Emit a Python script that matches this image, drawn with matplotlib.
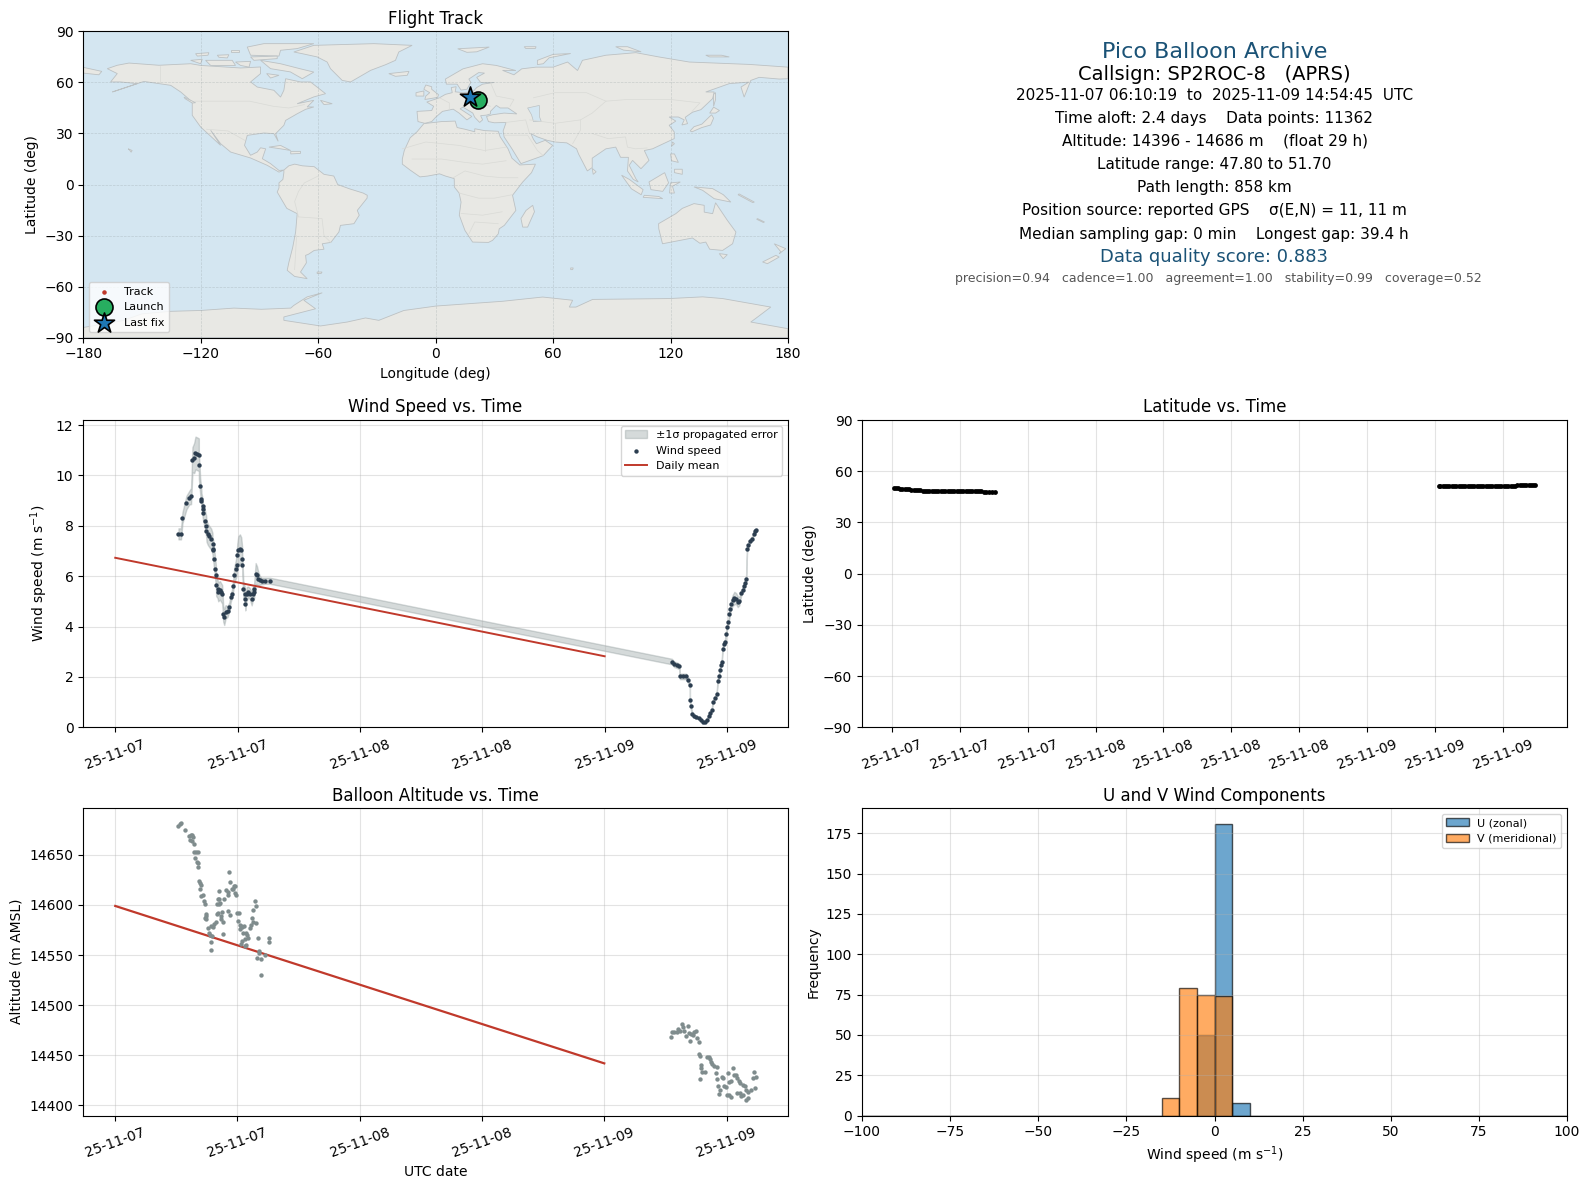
import datetime as dt

import matplotlib
matplotlib.use("Agg")
import matplotlib.dates as mdates
import matplotlib.pyplot as plt
import numpy as np
from matplotlib.patches import Polygon

# hours after 2025-11-07 00:00 UTC
wind_t = [6.2, 6.45, 6.59, 6.98, 7.25, 7.44, 7.57, 7.74, 7.87, 8.03, 8.20, 8.20, 8.33, 8.46, 8.46, 8.56, 8.56, 8.62,
          8.82, 8.92, 8.95, 9.08, 9.21, 9.41, 9.54, 9.54, 9.61, 9.70, 9.80, 9.87, 9.90, 10.03, 10.10, 10.26, 10.36,
          10.49, 10.59, 10.69, 10.82, 11.02, 11.18, 11.34, 11.44, 11.57, 11.67, 11.84, 11.90, 11.97, 12.07, 12.23,
          12.36, 12.46, 12.46, 12.56, 12.69, 12.75, 12.75, 12.89, 13.05, 13.21, 13.38, 13.48, 13.61, 13.64, 13.77,
          13.90, 14.03, 14.20, 14.36, 14.72, 15.15,
          54.59, 54.82, 55.05, 55.31, 55.38, 55.64, 55.97, 56.13, 56.36, 56.36, 56.43, 56.59, 56.72, 56.95, 57.21,
          57.44, 57.61, 57.80, 58.00, 58.20, 58.33, 58.49, 58.62, 58.82, 58.98, 59.08, 59.21, 59.28, 59.38, 59.48,
          59.56, 59.67, 59.80, 59.90, 60.00, 60.13, 60.23, 60.33, 60.43, 60.56, 60.72, 60.89, 61.05, 61.21, 61.38,
          61.54, 61.64, 61.74, 61.87, 61.97, 62.10, 62.26, 62.46, 62.62, 62.77, 62.84]
wind_v = [7.68, 7.68, 8.32, 8.92, 9.11, 9.18, 10.62, 10.69, 10.89, 10.86, 10.82, 10.42, 9.59, 9.07, 8.98, 8.77, 8.68,
          8.52, 8.21, 7.99, 7.79, 7.66, 7.58, 7.47, 7.29, 7.09, 7.02, 6.69, 6.30, 6.03, 5.63, 5.50, 5.37, 5.44, 5.37,
          5.28, 4.51, 4.38, 4.58, 4.60, 4.78, 5.17, 5.28, 5.62, 6.03, 6.30, 6.43, 6.83, 7.02, 7.09, 7.02, 6.69, 6.43,
          5.50, 5.30, 5.11, 4.91, 5.30, 5.37, 5.30, 5.11, 5.30, 5.37, 5.50, 6.10, 6.03, 5.90, 5.83, 5.81, 5.82, 5.82,
          2.61, 2.50, 2.47, 2.42, 2.02, 2.02, 2.02, 1.89, 1.69, 1.10, 0.83, 0.52, 0.44, 0.41, 0.38, 0.30, 0.21, 0.21,
          0.30, 0.44, 0.57, 0.70, 1.01, 1.18, 1.31, 1.84, 2.02, 2.26, 2.46, 2.59, 3.10, 3.32, 3.39, 3.72, 3.98, 4.18,
          4.48, 4.71, 4.91, 5.04, 5.13, 5.11, 4.99, 5.01, 5.33, 5.44, 5.60, 5.73, 5.90, 7.09, 7.25, 7.39, 7.49, 7.69,
          7.79, 7.82]
wind_err = [0.22, 0.22, 0.22, 0.27, 0.27, 0.32, 0.5, 0.6, 0.65, 0.65, 0.65, 0.55, 0.32, 0.32, 0.32, 0.32, 0.32, 0.32,
            0.37, 0.42, 0.42, 0.42, 0.42, 0.42, 0.42, 0.42, 0.42, 0.42, 0.42, 0.42, 0.42, 0.37, 0.37, 0.37, 0.37, 0.37,
            0.32, 0.32, 0.27, 0.22, 0.17, 0.17, 0.17, 0.22, 0.32, 0.37, 0.42, 0.47, 0.57, 0.57, 0.52, 0.42, 0.37, 0.32,
            0.32, 0.27, 0.27, 0.27, 0.22, 0.22, 0.27, 0.27, 0.27, 0.32, 0.42, 0.37, 0.27, 0.17, 0.13, 0.12, 0.12,
            0.11, 0.11, 0.11, 0.11, 0.11, 0.11, 0.11, 0.09, 0.07, 0.07, 0.07, 0.05, 0.05, 0.05, 0.05, 0.05, 0.05, 0.05,
            0.05, 0.05, 0.05, 0.05, 0.07, 0.07, 0.07, 0.09, 0.09, 0.09, 0.09, 0.09, 0.09, 0.09, 0.09, 0.09, 0.12, 0.12,
            0.15, 0.17, 0.19, 0.22, 0.25, 0.22, 0.22, 0.17, 0.12, 0.09, 0.09, 0.09, 0.09, 0.09, 0.09, 0.09, 0.09, 0.07,
            0.07, 0.07]

mean_t = [0, 48]
wind_mean = [6.73, 2.82]
alt_mean = [14599, 14442]

alt_t = [6.20, 6.36, 6.49, 6.89, 7.25, 7.41, 7.57, 7.67, 7.34, 7.51, 7.77, 7.74, 7.93, 8.10, 7.87, 8.00, 8.10, 8.16,
         8.26, 8.36, 8.46, 8.36, 8.46, 8.59, 8.75, 8.79, 8.89, 8.95, 8.85, 8.95, 10.23, 10.20, 10.10, 9.97, 10.16,
         10.33, 10.72, 10.85, 11.02, 11.11, 11.21, 11.31, 11.44, 11.61, 11.74, 11.57, 11.77, 11.84, 11.05, 11.31,
         9.97, 10.10, 10.36, 10.49, 10.39, 10.59, 9.87, 9.70, 9.61, 9.41, 9.08, 9.18, 9.28, 9.54, 9.44, 9.44, 10.62,
         11.93, 12.10, 12.07, 12.20, 12.33, 12.43, 12.66, 12.26, 12.52, 12.82, 12.92, 13.08, 12.72, 12.49, 12.30,
         12.82, 12.72, 14.00, 13.87, 14.26, 14.26, 14.66, 15.05, 15.05, 14.07, 13.67, 13.77, 13.57, 13.41, 13.48,
         13.80, 13.31, 13.18, 14.10,
         54.59, 54.66, 54.85, 55.18, 55.28, 55.41, 55.67, 55.77, 55.87, 56.00, 56.26, 56.33, 56.39, 56.56, 56.75,
         56.85, 57.05, 57.15, 57.25, 57.28, 57.38, 57.51, 57.54, 57.44, 57.64, 57.90, 58.13, 58.30, 58.36, 58.52,
         58.62, 58.79, 59.02, 58.92, 59.11, 59.21, 59.38, 59.31, 59.54, 59.70, 59.80, 59.93, 60.00, 60.20, 60.10,
         60.26, 60.43, 60.59, 60.75, 60.92, 60.98, 61.18, 61.34, 61.57, 61.77, 61.90, 62.07, 61.31, 61.41, 62.07,
         62.56, 62.66, 62.89, 61.95, 60.40, 61.00, 61.60, 62.40, 62.80]
alt_m = [14679, 14681, 14682, 14675, 14669, 14670, 14670, 14668, 14665, 14664, 14661, 14653, 14653, 14653, 14647,
         14643, 14642, 14638, 14624, 14622, 14620, 14616, 14609, 14610, 14604, 14601, 14591, 14589, 14587, 14586,
         14614, 14606, 14606, 14601, 14601, 14602, 14606, 14615, 14613, 14610, 14633, 14623, 14616, 14619, 14619,
         14616, 14612, 14610, 14594, 14590, 14591, 14592, 14589, 14593, 14586, 14583, 14583, 14581, 14578, 14579,
         14577, 14572, 14570, 14569, 14563, 14555, 14571, 14592, 14592, 14584, 14580, 14579, 14578, 14579, 14576,
         14572, 14572, 14570, 14567, 14566, 14564, 14561, 14560, 14559, 14567, 14547, 14546, 14530, 14550, 14567,
         14563, 14554, 14604, 14599, 14595, 14587, 14583, 14582, 14580, 14577, 14552,
         14468, 14473, 14473, 14473, 14476, 14474, 14481, 14478, 14474, 14469, 14479, 14472, 14464, 14471, 14470,
         14473, 14474, 14467, 14463, 14451, 14449, 14440, 14437, 14426, 14433, 14433, 14448, 14448, 14446, 14443,
         14441, 14439, 14438, 14432, 14426, 14419, 14415, 14411, 14428, 14427, 14419, 14418, 14410, 14410, 14432,
         14423, 14424, 14437, 14430, 14430, 14427, 14424, 14422, 14420, 14419, 14415, 14413, 14412, 14409, 14407,
         14427, 14433, 14428, 14405, 14408, 14412, 14410, 14415, 14417]

lat_t = [6.17, 6.3, 6.5, 6.7, 6.9, 7.1, 7.3, 7.5, 7.7, 7.9, 8.1, 8.3, 8.5, 8.7, 8.9, 9.1, 9.3, 9.5, 9.7, 9.9, 10.1,
         10.3, 10.5, 10.7, 10.9, 11.1, 11.3, 11.5, 11.7, 11.9, 12.1, 12.3, 12.5, 12.7, 12.9, 13.1, 13.3, 13.5, 13.7,
         13.9, 14.1, 14.3, 14.6, 14.85, 15.1,
         54.34, 54.5, 54.7, 54.9, 55.1, 55.3, 55.5, 55.7, 55.9, 56.1, 56.3, 56.5, 56.7, 56.9, 57.1, 57.3, 57.5, 57.7,
         57.9, 58.1, 58.3, 58.5, 58.7, 58.9, 59.1, 59.3, 59.5, 59.7, 59.9, 60.1, 60.3, 60.5, 60.7, 60.9, 61.1, 61.3,
         61.5, 61.7, 61.9, 62.1, 62.3, 62.5, 62.7, 62.86]
lat_deg = [50.2, 50.1, 50.0, 49.7, 49.4, 49.35, 49.3, 49.3, 49.25, 49.25, 49.2, 49.1, 48.9, 48.7, 48.7, 48.65, 48.65,
           48.65, 48.6, 48.6, 48.6, 48.6, 48.55, 48.5, 48.5, 48.3, 48.3, 48.3, 48.25, 48.25, 48.25, 48.2, 48.2, 48.2,
           48.2, 48.2, 48.15, 48.15, 48.15, 48.15, 48.1, 48.1, 47.85, 47.8, 47.8,
           51.2, 51.2, 51.2, 51.2, 51.2, 51.2, 51.2, 51.2, 51.2, 51.2, 51.2, 51.2, 51.2, 51.2, 51.2, 51.2, 51.2, 51.2,
           51.2, 51.2, 51.2, 51.2, 51.2, 51.2, 51.2, 51.2, 51.25, 51.25, 51.25, 51.3, 51.3, 51.3, 51.35, 51.4, 51.6,
           51.65, 51.65, 51.65, 51.7, 51.7, 51.7, 51.7, 51.7, 51.7]

track_lon = [21.5, 21.0, 20.6, 20.1, 19.6, 19.2, 18.8, 18.2, 17.8, 17.4]
track_lat = [50.2, 49.4, 48.7, 48.2, 47.8, 51.2, 51.2, 51.2, 51.6, 51.7]
launch_lon, launch_lat = 21.5, 49.7
last_lon, last_lat = 17.4, 51.7

hist_edges = np.arange(-100, 105, 5)
u_centres = [-2.5, 2.5, 7.5]
u_counts = [50, 181, 8]
v_centres = [-12.5, -7.5, -2.5, 2.5]
v_counts = [11, 79, 75, 74]

# rough hand traced outlines, lon/lat
land_outlines = [
    # north america
    [(-167.7, 68.1), (-162.6, 70.1), (-156.6, 71.4), (-141.3, 70.1), (-125.1, 71), (-120, 70), (-99.6, 68.5),
     (-89.4, 69.1), (-89.4, 65.2), (-94.5, 60.3), (-91.1, 57.3), (-82.6, 55.4), (-79.2, 51.4), (-77.5, 55.4),
     (-76.6, 62.2), (-69, 60.3), (-63.9, 60.3), (-56.2, 53.4), (-62.2, 51.5), (-70.7, 47.5), (-62.2, 49.5),
     (-65.6, 45.6), (-62.2, 45.6), (-66.4, 44.2), (-70.7, 41.6), (-76.6, 37.7), (-77.5, 34.8), (-81.7, 29.9),
     (-80.4, 25.4), (-82.6, 29.9), (-87.7, 30.3), (-96.2, 28.9), (-97.6, 23), (-94.5, 17.2), (-91.1, 19.1),
     (-89.4, 21.6), (-86.8, 21), (-88.5, 15.2), (-84.3, 12.3), (-80, 8.3), (-77.5, 8.5), (-80, 7.3), (-86, 11.3),
     (-94.5, 15.6), (-104.7, 19.1), (-109.8, 24), (-114.9, 31.9), (-109.8, 23), (-120, 33.8), (-124.3, 40.7),
     (-124.3, 48.5), (-130.2, 54.4), (-135.3, 58.3), (-149, 60.6), (-157.5, 57.3), (-165.1, 54.4), (-152.4, 59.3),
     (-160.9, 60.3), (-166, 60.3), (-162.6, 65.2)],
    [(-89.4, 73), (-79.2, 71), (-69, 68), (-62.2, 66.1), (-68.1, 62.2), (-74.2, 66.2), (-84.3, 68.1)],
    [(-117.5, 73), (-103.9, 73), (-102.2, 70), (-114.9, 70)],
    [(-125.1, 73), (-119.2, 73.6), (-120, 71)],
    [(-122.6, 76.9), (-115.8, 77.5), (-116.3, 76), (-121.7, 75.5)],
    [(-111.5, 76), (-105.6, 76.3), (-106.4, 74.4), (-110.7, 74.8)],
    [(-96.2, 80.8), (-87.7, 82.8), (-62.2, 82.8), (-70.7, 79.9), (-79.2, 78.9), (-80, 75.5), (-94.5, 76)],
    [(-94.5, 75), (-80.9, 75.5), (-80.9, 74), (-92.8, 73)],
    [(-104.7, 78.9), (-100.5, 78.9), (-100.5, 77.9), (-104.7, 77.9)],
    [(-102.2, 72), (-94.5, 72.4), (-95.3, 69), (-99.6, 70)],
    [(-86.3, 65.2), (-80, 64.2), (-84.3, 62.6)],
    [(-58.8, 49.5), (-52.8, 47.5), (-57, 47)],
    [(-85.1, 22), (-79.2, 23), (-74, 20), (-79.2, 21)],
    [(-74, 19.5), (-69, 19.5), (-69, 18.3), (-74, 18)],
    [(-128.5, 51.4), (-122.6, 48.1), (-124.3, 47.9), (-128, 50.5)],
    [(-157, 21), (-155, 20), (-155.5, 19), (-156.5, 20.5)],
    [(-180, 68.9), (-170.5, 66.5), (-172, 64.5), (-180, 65.5)],
    # greenland, iceland, british isles
    [(-72.4, 77.9), (-62.2, 81.8), (-31.5, 82.8), (-12, 81.8), (-18.8, 77.9), (-20.5, 73), (-25.6, 70.4), (-33.2, 67.1),
     (-43.4, 60.3), (-47.7, 61.2), (-53.7, 68.1), (-55.4, 72), (-60.5, 75), (-68.1, 76.9)],
    [(-23.9, 65.2), (-13.6, 66.5), (-14.5, 64.2), (-20.5, 63.6)],
    [(-5.5, 50), (1, 51.2), (1.5, 52.8), (-2, 56), (-2, 57.5), (-5, 58.5), (-6, 56), (-3, 54), (-5, 52)],
    [(-10, 52), (-6, 52), (-6, 55), (-10, 54)],
    # arctic russia
    [(11.3, 79.8), (27.4, 80.8), (21, 78), (16, 77.7)],
    [(52, 70.5), (52, 73), (60, 76.5), (69, 77), (58, 74.5), (55, 71)],
    [(45.3, 81), (51.3, 81), (51, 80), (46, 80)],
    [(92, 81), (98, 81), (105, 78), (96, 79)],
    [(138, 76), (146, 76), (150, 75), (140, 75)],
    # south america
    [(-77.5, 8.5), (-75, 11), (-72, 12), (-68, 11), (-62, 10.5), (-57, 6), (-52, 5), (-50, 0), (-44, -2.5), (-37, -5),
     (-34.9, -6.3), (-35, -8), (-40, -15.2), (-39, -18), (-41.7, -23), (-48.6, -24), (-49.4, -27.9), (-53.5, -34),
     (-57.9, -34.8), (-57, -38), (-62, -38.7), (-65, -41), (-66.4, -41.6), (-66, -46), (-69, -51.4), (-65.6, -55.3),
     (-72, -54), (-75.8, -50.4), (-74.9, -45.5), (-73, -37), (-71.5, -27.9), (-70.7, -17.1), (-76, -14), (-80.9, -4.4),
     (-80, -2), (-80, 1), (-78, 3), (-77.5, 7)],
    [(-60.5, -51.4), (-58, -51.4), (-58.5, -52.3), (-60.5, -52.3)],
    # africa
    [(-6, 35.8), (3, 37), (10, 37.3), (11, 33.5), (15, 32.5), (20, 31), (20, 32.8), (25, 31.7), (32, 31.3), (33, 28),
     (37, 21), (39, 15.5), (43, 11.5), (51, 12), (49, 7), (44.5, 1.5), (39.3, -6.3), (41, -15.2), (35.1, -24),
     (32.5, -26), (32, -29), (29.1, -32.8), (27, -34), (18.9, -33.8), (15, -27), (12.1, -18), (13, -10.3), (12, -5),
     (9.6, -1.5), (9.5, 3.5), (5, 5), (2, 6.3), (-4, 5), (-8, 4.5), (-13, 8.5), (-17, 12), (-17, 15), (-16, 20),
     (-13, 27.5), (-9.5, 31)],
    [(49.6, -12.2), (50.5, -16), (47, -25), (44.5, -25), (43.6, -20), (46.2, -15.2)],
    [(69, -49), (70.3, -49), (70, -50), (69, -50)],
    # eurasia
    [(-9, 37), (-9.5, 43), (-2, 43.5), (-1, 46), (-4.5, 48.5), (2, 51), (5, 53), (8.5, 54), (8, 57), (10.5, 57.5),
     (10, 54.5), (14, 54), (19, 54.5), (21, 57), (24, 59), (30, 60), (23, 60), (21, 63), (25, 65.5), (22, 65.8),
     (17, 62), (18, 60), (16, 56), (13, 55.5), (11, 59), (5.5, 59), (5, 62), (14, 68), (24, 71), (31, 70), (41, 67),
     (34.2, 67.1), (40, 64.5), (44, 68), (51.3, 69), (60, 69), (67.4, 72), (72.5, 67), (75, 73), (87, 76), (102.3, 77.5),
     (114, 75), (129.6, 72), (160.2, 70.6), (180, 69), (180, 62.2), (175.5, 62), (165.3, 63), (161, 61.2), (157.6, 51.4),
     (156, 57.3), (160, 60.2), (150, 59.3), (138, 54.4), (142.3, 54.4), (141.5, 50.5), (135.5, 44), (131.2, 42.5),
     (127.5, 39.5), (128.7, 35.8), (125.8, 35), (127, 38), (124, 39.7), (119.3, 39.7), (122.7, 37.3), (119.3, 34.8),
     (121.9, 30.9), (121.9, 27), (110.8, 21), (106.6, 20), (109, 14.2), (104.9, 9.3), (100.6, 14.2), (98.9, 11.3),
     (102.3, 3.4), (103.5, 1.5), (101, 3), (98, 8), (98.5, 16), (94.5, 16), (92, 22), (87, 21), (80, 15.5), (80, 10),
     (77.5, 8), (73, 18), (72, 21), (67, 24.5), (61, 25), (57, 26), (52, 28), (48.7, 29.9), (50, 26.5), (51.5, 24),
     (56, 26), (59.8, 23), (55, 17), (43.6, 12.3), (39, 21), (35, 28), (34.5, 31.5), (36, 36.5), (30, 36.3), (27, 37),
     (26, 40), (29, 41), (35, 42), (41.5, 41.5), (37, 45), (33, 45), (31, 46.5), (28, 43), (28, 41.5), (26, 40.8),
     (23, 40.5), (24, 38), (22.5, 36.5), (20, 39.5), (19, 42), (14, 45.5), (12.5, 44.5), (18.5, 40), (16, 38), (12, 42),
     (9, 44.3), (3.5, 43), (0, 39.5), (-2, 37), (-5.5, 36)],
    [(130, 31.5), (132, 34), (136, 35.5), (140, 40), (141, 41), (142, 39), (140.5, 35), (136, 33.5), (131, 31)],
    [(140, 42), (142, 45.5), (145, 43.5), (143, 42)],
    [(142, 46), (143, 50), (143, 54), (142, 53)],
    [(121, 25), (122, 24), (120.5, 22.5)],
    [(80, 9.5), (82, 7.5), (80.5, 6)],
    # south east asia and oceania
    [(120, 18), (122, 18), (124, 13), (120.5, 14)],
    [(122, 9), (126, 9), (126, 6), (122, 7)],
    [(109, 1.5), (117, 7), (119, 1), (116, -4), (110, -3)],
    [(95, 5.5), (99, 3), (106, -3), (105, -6), (100, -2.5)],
    [(106.6, -6.3), (114, -7), (116, -8.3), (106, -7.5)],
    [(120, 1), (125, 1.5), (121, -1), (122, -5), (119.5, -5)],
    [(132, -1.4), (141.5, -2.4), (147, -6), (150.8, -10.3), (142.3, -8.3), (136.4, -3.4)],
    [(155, -5.5), (162.8, -10.3), (162, -10.6), (154.5, -6)],
    [(164.4, -20), (168, -22), (167.4, -22.3), (164, -20.4)],
    [(113.9, -23), (122.7, -17.1), (126, -14), (132, -11.2), (137.2, -12.2), (137.2, -16.2), (141.5, -17.1), (143, -10.7),
     (145.5, -15), (149, -21), (153.4, -27.9), (151.7, -34.8), (146.6, -38.7), (140, -38), (138, -33.8), (135, -34.5),
     (131.2, -31.4), (124, -33), (115.9, -34.8), (114, -26)],
    [(144.9, -40.6), (149, -41.2), (146.9, -43.6)],
    [(173, -34.8), (178.9, -37.7), (175.5, -40.6), (176.4, -39.6)],
    [(173.8, -41.6), (175.5, -42.6), (169.5, -46.5), (167, -45.5)],
    # antarctica
    [(-180, -84), (-160, -80), (-150, -76), (-135.3, -74.5), (-120, -74), (-103, -72.6), (-89, -73.3), (-74, -72.6),
     (-72.4, -71), (-65.6, -66), (-57.9, -63.6), (-67.3, -68), (-61.3, -73), (-77.5, -77.8), (-77.5, -79.8),
     (-58.8, -83.1), (-45.2, -80.8), (-35.8, -78.4), (-29, -79.8), (-16.2, -74), (0.2, -71.4), (34.2, -68.6),
     (54.7, -66.1), (70, -68), (68.3, -72), (71.7, -72), (80.2, -67.5), (119.3, -67), (136.4, -66), (146.6, -67),
     (171.2, -72), (164.4, -77.9), (161, -80.8), (180, -84.7), (180, -90), (-180, -90)],
]
water_outlines = [
    [(47, 45), (53, 46.5), (53, 40), (54, 37), (50, 37), (49, 41)],
]
border_lines = [
    [(-123, 49), (-95, 49), (-83, 46), (-75, 45), (-67, 47)],
    [(-141, 69.7), (-141, 60)],
    [(-117, 32.5), (-106, 31.5), (-97.5, 26)],
    [(-70, -19), (-58, -20), (-57, -30), (-53.5, -34)],
    [(-70, -19), (-72, -10), (-70, -4), (-67, 1), (-60, 5)],
    [(-71, -30), (-72, -50)],
    [(-17, 21), (-5, 25), (12, 23), (25, 20), (36, 22)],
    [(-12, 15), (3, 15), (15, 13), (24, 12), (36, 14)],
    [(9, 4), (15, 8), (25, 5), (34, 4), (42, 4)],
    [(12, -5), (22, -8), (30, -8), (39, -6)],
    [(13, -17), (24, -18), (34, -16)],
    [(17, -29), (20, -22), (32, -23)],
    [(25, 20), (25, 31.7)],
    [(2, 51), (7, 48), (7, 44)],
    [(14, 54), (15, 51), (17, 48), (22, 48), (28, 46)],
    [(24, 54), (24, 50), (22, 48)],
    [(28, 60), (31, 52), (40, 50), (38, 46)],
    [(50, 51), (61, 54), (77, 54), (87, 49), (98, 50), (120, 50), (135, 48), (131, 43)],
    [(87, 49), (80, 42), (74, 38), (61, 36), (48, 38)],
    [(61, 36), (61, 25)],
    [(74, 38), (74, 32), (70, 24)],
    [(80, 30), (88, 27), (97, 28), (98, 22), (102, 21), (108, 21.5)],
    [(36, 36.5), (46, 38), (48, 30)],
    [(35, 29), (47, 29), (52, 20), (55, 17)],
]

W, H = 1590, 1189
fig = plt.figure(figsize=(W / 100, H / 100), dpi=100)


def make_axes(left, top, right, bottom):
    return fig.add_axes([left / W, 1 - bottom / H, (right - left) / W, (bottom - top) / H])


def to_dates(hours):
    return mdates.date2num(dt.datetime(2025, 11, 7)) + np.asarray(hours) / 24


def date_axis(ax, hours):
    ax.xaxis.set_major_locator(mdates.HourLocator(byhour=hours))
    ax.xaxis.set_major_formatter(mdates.DateFormatter("%y-%m-%d"))
    plt.setp(ax.get_xticklabels(), rotation=20)


dark = "#2c3e50"
grey = "#7f8c8d"
red = "#c0392b"
blue = "#1a5276"

# flight track
ax = make_axes(83.2, 31.4, 788, 337.7)
ax.set_facecolor("#d4e6f1")
for outline in land_outlines:
    ax.add_patch(Polygon(outline, closed=True, facecolor="#e8e8e4", edgecolor="#bcc1c3", lw=0.6, zorder=1))
for outline in water_outlines:
    ax.add_patch(Polygon(outline, closed=True, facecolor="#d4e6f1", edgecolor="#bcc1c3", lw=0.5, zorder=1.1))
for line in border_lines:
    pts = np.array(line)
    ax.plot(pts[:, 0], pts[:, 1], color="#d9dad6", lw=0.5, zorder=1.2)
ax.set_axisbelow("line")
ax.grid(True, color="#8f9a9d", lw=0.5, ls="--", alpha=0.35)
ax.scatter(track_lon, track_lat, s=5, color=red, zorder=3, label="Track")
ax.scatter(launch_lon, launch_lat, s=150, color="#27ae60", edgecolor="black", linewidth=1.2, zorder=4, label="Launch")
ax.scatter(last_lon, last_lat, s=230, marker="*", color="#1f77b4", edgecolor="black", linewidth=1.2, zorder=5,
           label="Last fix")
ax.set_xlim(-180, 180)
ax.set_ylim(-90, 90)
ax.set_xticks(np.arange(-180, 181, 60))
ax.set_yticks(np.arange(-90, 91, 30))
ax.set_xlabel("Longitude (deg)")
ax.set_ylabel("Latitude (deg)")
ax.set_title("Flight Track", fontsize=12, pad=5)
ax.legend(loc="lower left", fontsize=8, framealpha=0.8)

# summary text
summary = [
    (51.7, 1214.5, "Pico Balloon Archive", 16, blue),
    (74, 1214.5, "Callsign: SP2ROC-8   (APRS)", 14, "black"),
    (95.3, 1214.5, "2025-11-07 06:10:19  to  2025-11-09 14:54:45  UTC", 11, "black"),
    (118.6, 1213.5, "Time aloft: 2.4 days    Data points: 11362", 11, "black"),
    (140.9, 1214.5, "Altitude: 14396 - 14686 m    (float 29 h)", 11, "black"),
    (164.3, 1214.5, "Latitude range: 47.80 to 51.70", 11, "black"),
    (187.6, 1214.5, "Path length: 858 km", 11, "black"),
    (210.9, 1214.5, "Position source: reported GPS    σ(E,N) = 11, 11 m", 11, "black"),
    (234.2, 1213.5, "Median sampling gap: 0 min    Longest gap: 39.4 h", 11, "black"),
    (257.5, 1214.5, "Data quality score: 0.883", 13, blue),
    (278.8, 1218.5, "precision=0.94   cadence=1.00   agreement=1.00   stability=0.99   coverage=0.52", 9, "#555555"),
]
for py, px, txt, size, col in summary:
    fig.text(px / W, 1 - py / H, txt, ha="center", va="center", fontsize=size, color=col)

# wind speed
ax = make_axes(83.2, 420, 788, 727.3)
wt = to_dates(wind_t)
v = np.array(wind_v)
e = np.array(wind_err)
ax.fill_between(wt, v - e, v + e, color=grey, alpha=0.32, label="±1σ propagated error")
ax.scatter(wt, v, s=10, color=dark, linewidths=0, zorder=3, label="Wind speed")
ax.plot(to_dates(mean_t), wind_mean, color=red, lw=1.4, zorder=2, label="Daily mean")
ax.set_ylim(0, 12.2)
ax.set_ylabel("Wind speed (m s$^{-1}$)")
ax.set_title("Wind Speed vs. Time", fontsize=12)
ax.grid(True, alpha=0.35)
ax.legend(loc="upper right", fontsize=8)
date_axis(ax, [0, 12])

# latitude
ax = make_axes(862, 420, 1567, 727.3)
ax.scatter(to_dates(lat_t), lat_deg, s=12, color="black", linewidths=0, zorder=3)
ax.set_ylim(-90, 90)
ax.set_yticks(np.arange(-90, 91, 30))
ax.set_ylabel("Latitude (deg)")
ax.set_title("Latitude vs. Time", fontsize=12)
ax.grid(True, alpha=0.35)
date_axis(ax, [0, 6, 12, 18])

# altitude
ax = make_axes(83.2, 808, 788, 1115.5)
ax.scatter(to_dates(alt_t), alt_m, s=10, color=grey, linewidths=0, zorder=3)
ax.plot(to_dates(mean_t), alt_mean, color=red, lw=1.6, zorder=2)
ax.set_ylim(14390, 14696.7)
ax.set_ylabel("Altitude (m AMSL)")
ax.set_xlabel("UTC date")
ax.set_title("Balloon Altitude vs. Time", fontsize=12, pad=5)
ax.grid(True, alpha=0.35)
date_axis(ax, [0, 12])

# wind components
ax = make_axes(862, 808, 1567, 1115.5)
ax.hist(u_centres, bins=hist_edges, weights=u_counts, color="tab:blue", edgecolor="black", alpha=0.65, label="U (zonal)")
ax.hist(v_centres, bins=hist_edges, weights=v_counts, color="tab:orange", edgecolor="black", alpha=0.65,
        label="V (meridional)")
ax.set_xlim(-100, 100)
ax.set_ylim(0, 190.7)
ax.set_xlabel("Wind speed (m s$^{-1}$)")
ax.set_ylabel("Frequency")
ax.set_title("U and V Wind Components", fontsize=12, pad=5)
ax.grid(True, alpha=0.35)
ax.legend(loc="upper right", fontsize=8)

fig.savefig("out.png", dpi=100)
